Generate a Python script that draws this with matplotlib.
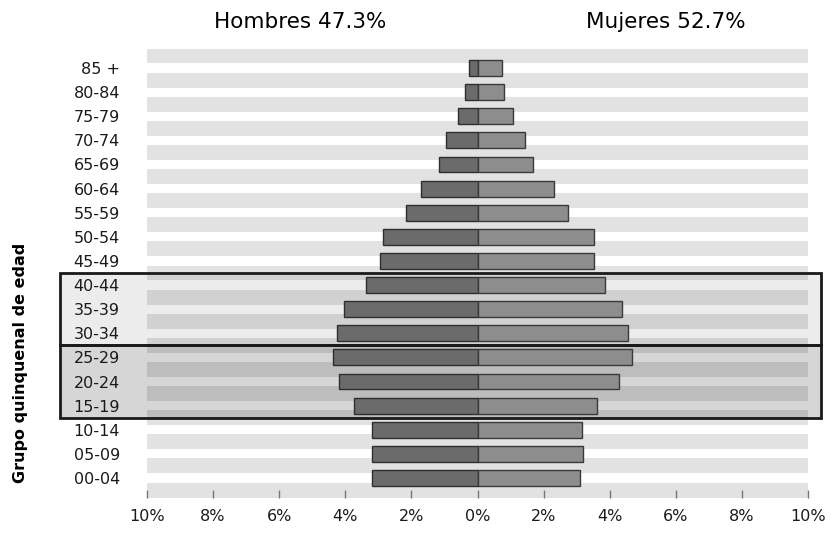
import matplotlib
matplotlib.use('Agg')
import matplotlib.pyplot as plt
from matplotlib.patches import Rectangle
from matplotlib.transforms import blended_transform_factory

# Grupos quinquenales, de abajo hacia arriba
grupos = ['00-04', '05-09', '10-14', '15-19', '20-24', '25-29', '30-34',
          '35-39', '40-44', '45-49', '50-54', '55-59', '60-64', '65-69',
          '70-74', '75-79', '80-84', '85 +']
hombres = [3.20, 3.20, 3.20, 3.75, 4.18, 4.36, 4.24, 4.05, 3.36, 2.96,
           2.87, 2.16, 1.72, 1.18, 0.94, 0.60, 0.39, 0.27]
mujeres = [3.09, 3.18, 3.15, 3.63, 4.27, 4.66, 4.54, 4.36, 3.87, 3.54,
           3.54, 2.75, 2.30, 1.67, 1.45, 1.06, 0.80, 0.73]
xticks = [-10, -8, -6, -4, -2, 0, 2, 4, 6, 8, 10]
titulo_h = 'Hombres 47.3%'
titulo_m = 'Mujeres 52.7%'
ylabel = 'Grupo quinquenal de edad'
# bloques resaltados (indices de grupos: desde, hasta, opacidad)
bloques = [(6, 8, 0.075), (3, 5, 0.16)]

fig = plt.figure(figsize=(8.32, 5.35), dpi=100)
ax = fig.add_axes([147 / 832, 1 - 497.5 / 535, 661 / 832, 449 / 535])

n = len(grupos)
y = list(range(n))

# franjas grises entre grupos
for i in range(n + 1):
    b = i - 0.5
    ax.axhspan(b - 0.31, b + 0.31, color='#e2e2e2', zorder=1, lw=0)

# sombreado y marco de los bloques
trans = blended_transform_factory(fig.transFigure, ax.transData)
for lo, hi, a in bloques:
    r = Rectangle((60 / 832, lo - 0.5), (821 - 60) / 832, hi - lo + 1,
                  transform=trans, facecolor='black', alpha=a,
                  edgecolor='none', zorder=1.5, clip_on=False)
    ax.add_patch(r)
    r2 = Rectangle((60 / 832, lo - 0.5), (821 - 60) / 832, hi - lo + 1,
                   transform=trans, facecolor='none', edgecolor='#1a1a1a',
                   lw=2, zorder=5, clip_on=False)
    ax.add_patch(r2)

ax.barh(y, [-v for v in hombres], height=0.66, color='#6b6b6b',
        edgecolor='#2e2e2e', lw=1.0, zorder=3)
ax.barh(y, mujeres, height=0.66, color='#8d8d8d',
        edgecolor='#3a3a3a', lw=1.0, zorder=3)

ax.set_xlim(-10, 10)
ax.set_ylim(-0.81, n - 0.5 + 0.31)
ax.set_yticks(y)
ax.set_yticklabels(grupos, fontsize=11.5, color='#1a1a1a')
ax.set_xticks(xticks)
ax.set_xticklabels([f'{abs(t)}%' for t in xticks], fontsize=11.5, color='#1a1a1a')
ax.tick_params(axis='y', length=0, pad=19.5)
ax.tick_params(axis='x', direction='in', length=6, width=1, color='#777777', pad=8)
for s in ax.spines.values():
    s.set_visible(False)

ax.set_ylabel(ylabel, fontsize=11.5, fontweight='bold')
ax.yaxis.set_label_coords(-119 / 661, 0.30)

fig.text(300 / 832, 1 - 22 / 535, titulo_h, ha='center', va='center', fontsize=15.5)
fig.text(666 / 832, 1 - 22 / 535, titulo_m, ha='center', va='center', fontsize=15.5)

plt.savefig('out.png', dpi=100)
plt.close()
